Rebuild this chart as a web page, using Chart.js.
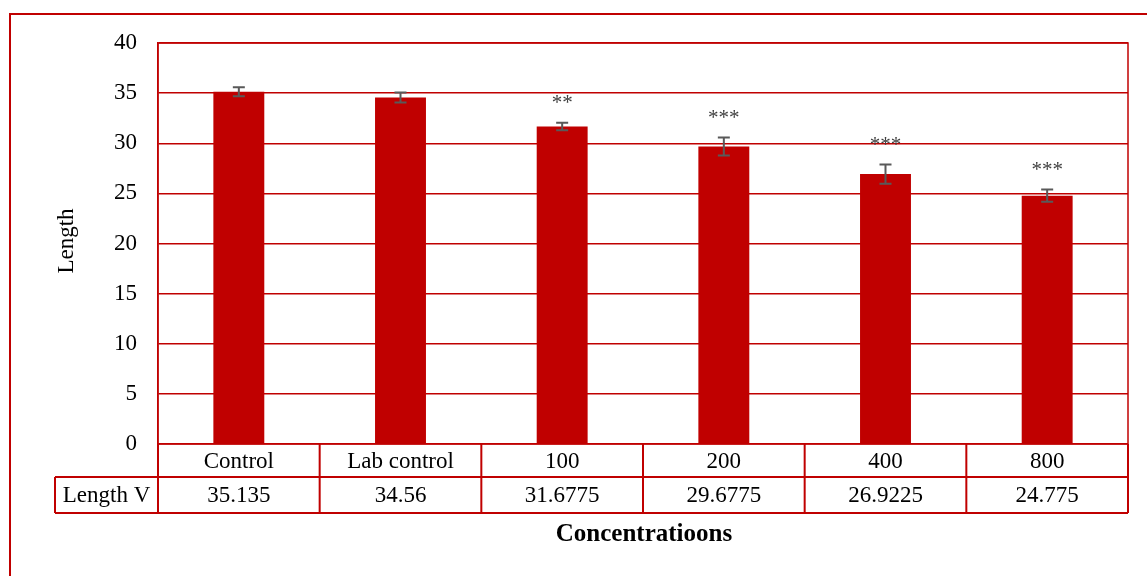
<!DOCTYPE html>
<html>
<head>
<meta charset="utf-8">
<script src="https://cdn.jsdelivr.net/npm/chart.js@4"></script>
<style>
  html, body { margin: 0; padding: 0; background: #fff; }
  #wrap { width: 1147px; height: 576px; position: relative; }
</style>
</head>
<body>
<div id="wrap"><canvas id="myBarChart"></canvas></div>
<script>
var categories = ["Control", "Lab control", "100", "200", "400", "800"];
var lengthV = [35.135, 34.56, 31.6775, 29.6775, 26.9225, 24.775];
var lengthVText = ["35.135", "34.56", "31.6775", "29.6775", "26.9225", "24.775"];
var errors = [0.45, 0.5, 0.37, 0.9, 0.95, 0.6];
var stars = ["", "", "**", "***", "***", "***"];
var yTicks = [0, 5, 10, 15, 20, 25, 30, 35, 40];

var red = "#c00000";
var serif = "'Liberation Serif', 'Times New Roman', serif";

// error bars, stars, data table and titles
var extras = {
  id: 'extras',
  afterDatasetsDraw: function (chart) {
    var ctx = chart.ctx;
    var area = chart.chartArea;
    var x = chart.scales.x;
    var y = chart.scales.y;
    var meta = chart.getDatasetMeta(0);

    ctx.save();
    // plot border
    ctx.strokeStyle = red;
    ctx.lineWidth = 1.5;
    ctx.strokeRect(area.left, area.top, area.right - area.left, area.bottom - area.top);

    // error bars
    ctx.strokeStyle = "#595959";
    ctx.lineWidth = 2;
    meta.data.forEach(function (bar, i) {
      var top = y.getPixelForValue(lengthV[i] + errors[i]);
      var bot = y.getPixelForValue(lengthV[i] - errors[i]);
      ctx.beginPath();
      ctx.moveTo(bar.x, top); ctx.lineTo(bar.x, bot);
      ctx.moveTo(bar.x - 6, top); ctx.lineTo(bar.x + 6, top);
      ctx.moveTo(bar.x - 6, bot); ctx.lineTo(bar.x + 6, bot);
      ctx.stroke();
      if (stars[i]) {
        ctx.fillStyle = "#404040";
        ctx.font = "21px " + serif;
        ctx.textAlign = "center";
        ctx.textBaseline = "middle";
        ctx.fillText(stars[i], bar.x, top - 19);
      }
    });

    // data table
    var row1 = area.bottom, row2 = area.bottom + 33, row3 = area.bottom + 69;
    var step = (area.right - area.left) / categories.length;
    ctx.strokeStyle = red;
    ctx.lineWidth = 2;
    ctx.beginPath();
    ctx.moveTo(area.left, row2); ctx.lineTo(area.right, row2);
    ctx.moveTo(55, row2); ctx.lineTo(area.left, row2);
    ctx.moveTo(55, row3); ctx.lineTo(area.right, row3);
    ctx.moveTo(55, row2); ctx.lineTo(55, row3);
    for (var k = 0; k <= categories.length; k++) {
      var lx = area.left + k * step;
      ctx.moveTo(lx, row1); ctx.lineTo(lx, row3);
    }
    ctx.stroke();

    ctx.fillStyle = "#000";
    ctx.font = "23px " + serif;
    ctx.textAlign = "center";
    ctx.textBaseline = "middle";
    categories.forEach(function (c, i) {
      var cx = x.getPixelForValue(i);
      ctx.fillText(c, cx, (row1 + row2) / 2 + 1);
      ctx.fillText(lengthVText[i], cx, (row2 + row3) / 2 + 1);
    });
    ctx.fillText("Length V", (55 + area.left) / 2, (row2 + row3) / 2 + 1);

    // axis titles
    ctx.font = "bold 25px " + serif;
    ctx.fillText("Concentratioons", (area.left + area.right) / 2 + 1, 535);
    ctx.font = "23px " + serif;
    ctx.translate(67, 241);
    ctx.rotate(-Math.PI / 2);
    ctx.fillText("Length", 0, 0);
    ctx.restore();

    // outer frame
    ctx.save();
    ctx.strokeStyle = red;
    ctx.lineWidth = 2;
    ctx.strokeRect(10, 14, 1200, 700);
    ctx.restore();
  }
};

document.addEventListener("DOMContentLoaded", function () {
  var ctx = document.getElementById("myBarChart").getContext('2d');
  new Chart(ctx, {
    type: 'bar',
    data: {
      labels: categories,
      datasets: [{
        data: lengthV,
        backgroundColor: red,
        borderWidth: 0,
        barPercentage: 0.315,
        categoryPercentage: 1
      }]
    },
    options: {
      responsive: true,
      maintainAspectRatio: false,
      animation: false,
      layout: { padding: { top: 43, bottom: 132, right: 19, left: 0 } },
      plugins: {
        legend: { display: false },
        tooltip: { enabled: false }
      },
      scales: {
        x: {
          display: false
        },
        y: {
          min: 0,
          max: 40,
          afterFit: function (scale) { scale.width = 158; },
          afterBuildTicks: function (scale) {
            scale.ticks = yTicks.map(function (v) { return { value: v }; });
          },
          grid: { color: red, lineWidth: 1.5, drawTicks: false },
          border: { color: red, width: 1.5 },
          ticks: {
            color: "#000",
            padding: 21,
            font: { family: serif, size: 23 }
          }
        }
      }
    },
    plugins: [extras]
  });
});
</script>
</body>
</html>
